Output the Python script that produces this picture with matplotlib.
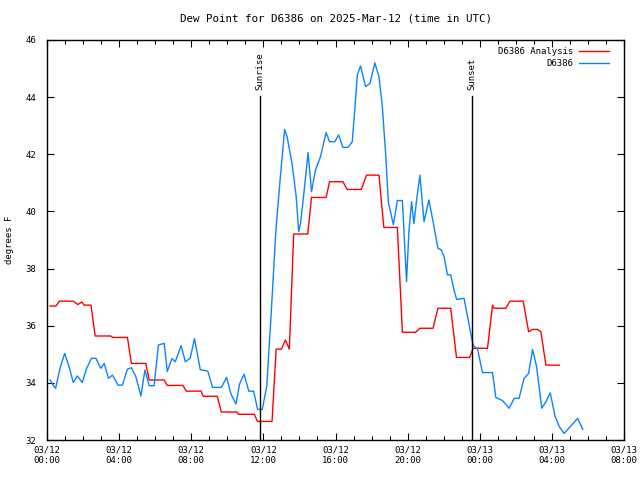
import matplotlib
matplotlib.use('Agg')
import matplotlib.pyplot as plt
from matplotlib.ticker import MultipleLocator

# hours since 2025-03-12 00:00 UTC
obs_hours = [0.17, 0.39, 0.48, 0.72, 0.98, 1.22, 1.46, 1.68, 1.96, 2.18, 2.46, 2.71,
             2.98, 3.17, 3.41, 3.63, 3.94, 4.18, 4.46, 4.68, 4.93, 5.21, 5.43, 5.67,
             5.94, 6.18, 6.5, 6.67, 6.93, 7.11, 7.44, 7.67, 7.94, 8.18, 8.5, 8.92,
             9.18, 9.67, 9.96, 10.21, 10.48, 10.68, 10.93, 11.19, 11.46, 11.68, 11.94,
             12.19, 12.44, 12.69, 12.94, 13.18, 13.32, 13.59, 13.82, 13.96, 14.06,
             14.24, 14.48, 14.67, 14.89, 15.17, 15.48, 15.67, 15.96, 16.18, 16.41,
             16.69, 16.93, 17.11, 17.21, 17.39, 17.67, 17.91, 18.18, 18.41, 18.59,
             18.78, 18.93, 19.21, 19.43, 19.71, 19.94, 20.07, 20.22, 20.35, 20.5,
             20.68, 20.91, 21.18, 21.43, 21.68, 21.87, 22.02, 22.21, 22.39, 22.57,
             22.72, 23.13, 23.36, 23.59, 23.68, 23.87, 24.15, 24.71, 24.89, 25.26,
             25.63, 25.91, 26.18, 26.46, 26.71, 26.93, 27.15, 27.44, 27.67, 27.91,
             28.18, 28.41, 28.68, 29.43, 29.71]
obs_dewpt = [34.10, 33.87, 33.81, 34.51, 35.03, 34.57, 34.01, 34.24, 34.01, 34.48, 34.86, 34.86,
             34.51, 34.68, 34.16, 34.27, 33.92, 33.92, 34.48, 34.53, 34.21, 33.54, 34.45, 33.90,
             33.90, 35.33, 35.38, 34.40, 34.85, 34.74, 35.30, 34.74, 34.86, 35.55, 34.46, 34.41,
             33.84, 33.84, 34.19, 33.60, 33.26, 33.96, 34.30, 33.71, 33.71, 33.07, 33.07,
             33.90, 36.50, 39.30, 41.20, 42.87, 42.60, 41.68, 40.52, 39.29, 39.58,
             40.60, 42.06, 40.69, 41.45, 41.92, 42.76, 42.44, 42.44, 42.68, 42.24,
             42.24, 42.44, 43.90, 44.78, 45.09, 44.37, 44.48, 45.20, 44.72, 43.72,
             42.03, 40.34, 39.53, 40.38, 40.38, 37.54, 39.29, 40.34, 39.58, 40.40,
             41.27, 39.64, 40.40, 39.58, 38.71, 38.65, 38.42, 37.78, 37.78, 37.25,
             36.92, 36.96, 36.20, 35.44, 35.27, 35.21, 34.36, 34.36, 33.49, 33.38,
             33.11, 33.46, 33.46, 34.16, 34.33, 35.17, 34.57, 33.11, 33.34, 33.65,
             32.82, 32.47, 32.23, 32.76, 32.37]

ana_hours = [0.17, 0.5, 0.68, 1.46, 1.71, 1.93, 2.06, 2.44, 2.67, 3.54, 3.64, 4.46,
             4.68, 5.48, 5.67, 6.5, 6.67, 7.54, 7.72, 8.54, 8.67, 9.44, 9.67, 10.54,
             10.61, 11.5, 11.67, 12.48, 12.71, 13.0, 13.22, 13.44, 13.68, 14.46, 14.67,
             15.48, 15.67, 16.41, 16.65, 17.43, 17.72, 18.41, 18.68, 19.43, 19.71,
             20.44, 20.68, 21.41, 21.68, 22.39, 22.71, 23.44, 23.63, 24.43, 24.71,
             24.79, 25.44, 25.68, 26.41, 26.71, 26.93, 27.2, 27.39, 27.67, 28.41]
ana_dewpt = [36.69, 36.69, 36.86, 36.86, 36.74, 36.83, 36.72, 36.72, 35.64, 35.64, 35.59, 35.59,
             34.68, 34.68, 34.10, 34.10, 33.91, 33.91, 33.71, 33.71, 33.53, 33.53, 32.98, 32.98,
             32.90, 32.90, 32.65, 32.65, 35.18, 35.18, 35.50, 35.18, 39.21, 39.21, 40.49,
             40.49, 41.04, 41.04, 40.77, 40.77, 41.27, 41.27, 39.44, 39.44, 35.77,
             35.77, 35.91, 35.91, 36.61, 36.61, 34.89, 34.89, 35.21, 35.21, 36.72,
             36.61, 36.61, 36.86, 36.86, 35.79, 35.87, 35.87, 35.79, 34.62, 34.62]

sunrise = 11.83
sunset = 23.56

tick_hours = [0, 4, 8, 12, 16, 20, 24, 28, 32]
tick_labels = ['03/12\n00:00', '03/12\n04:00', '03/12\n08:00', '03/12\n12:00', '03/12\n16:00',
               '03/12\n20:00', '03/13\n00:00', '03/13\n04:00', '03/13\n08:00']

plt.rcParams['font.family'] = ['DejaVu Sans Mono']
plt.rcParams['font.size'] = 6.5

fig = plt.figure(figsize=(6.4, 4.8), dpi=100)
ax = fig.add_axes([47 / 640, 40 / 480, 577 / 640, 400 / 480])

ax.plot(ana_hours, ana_dewpt, color='#ff0000', lw=1.0, label='D6386 Analysis')
ax.plot(obs_hours, obs_dewpt, color='#0a84ff', lw=1.0, label='D6386')

for h, name in [(sunrise, 'Sunrise'), (sunset, 'Sunset')]:
    ax.plot([h, h], [32, 44.05], color='black', lw=1.0)
    ax.text(h, 44.25, name, rotation=90, ha='center', va='bottom')

ax.set_xlim(0, 32)
ax.set_ylim(32, 46)
ax.set_xticks(tick_hours)
ax.set_xticklabels(tick_labels)
ax.xaxis.set_minor_locator(MultipleLocator(1))
ax.set_yticks(range(32, 47, 2))
ax.tick_params(which='both', direction='in', top=True, right=True, width=0.8)
ax.tick_params(which='major', length=5, pad=4)
ax.tick_params(which='minor', length=3)
ax.tick_params(axis='y', pad=8)
for s in ax.spines.values():
    s.set_linewidth(1.0)

ax.set_title('Dew Point for D6386 on 2025-Mar-12 (time in UTC)', pad=13)
ax.set_ylabel('degrees F', va='center')
ax.yaxis.set_label_coords(-37 / 577, 0.5)

ax.legend(loc='upper right', bbox_to_anchor=(0.981, 0.991), borderaxespad=0,
          frameon=False, markerfirst=False, handlelength=3.4,
          handletextpad=0.6, labelspacing=0.3)

fig.savefig('out.png', dpi=100)
